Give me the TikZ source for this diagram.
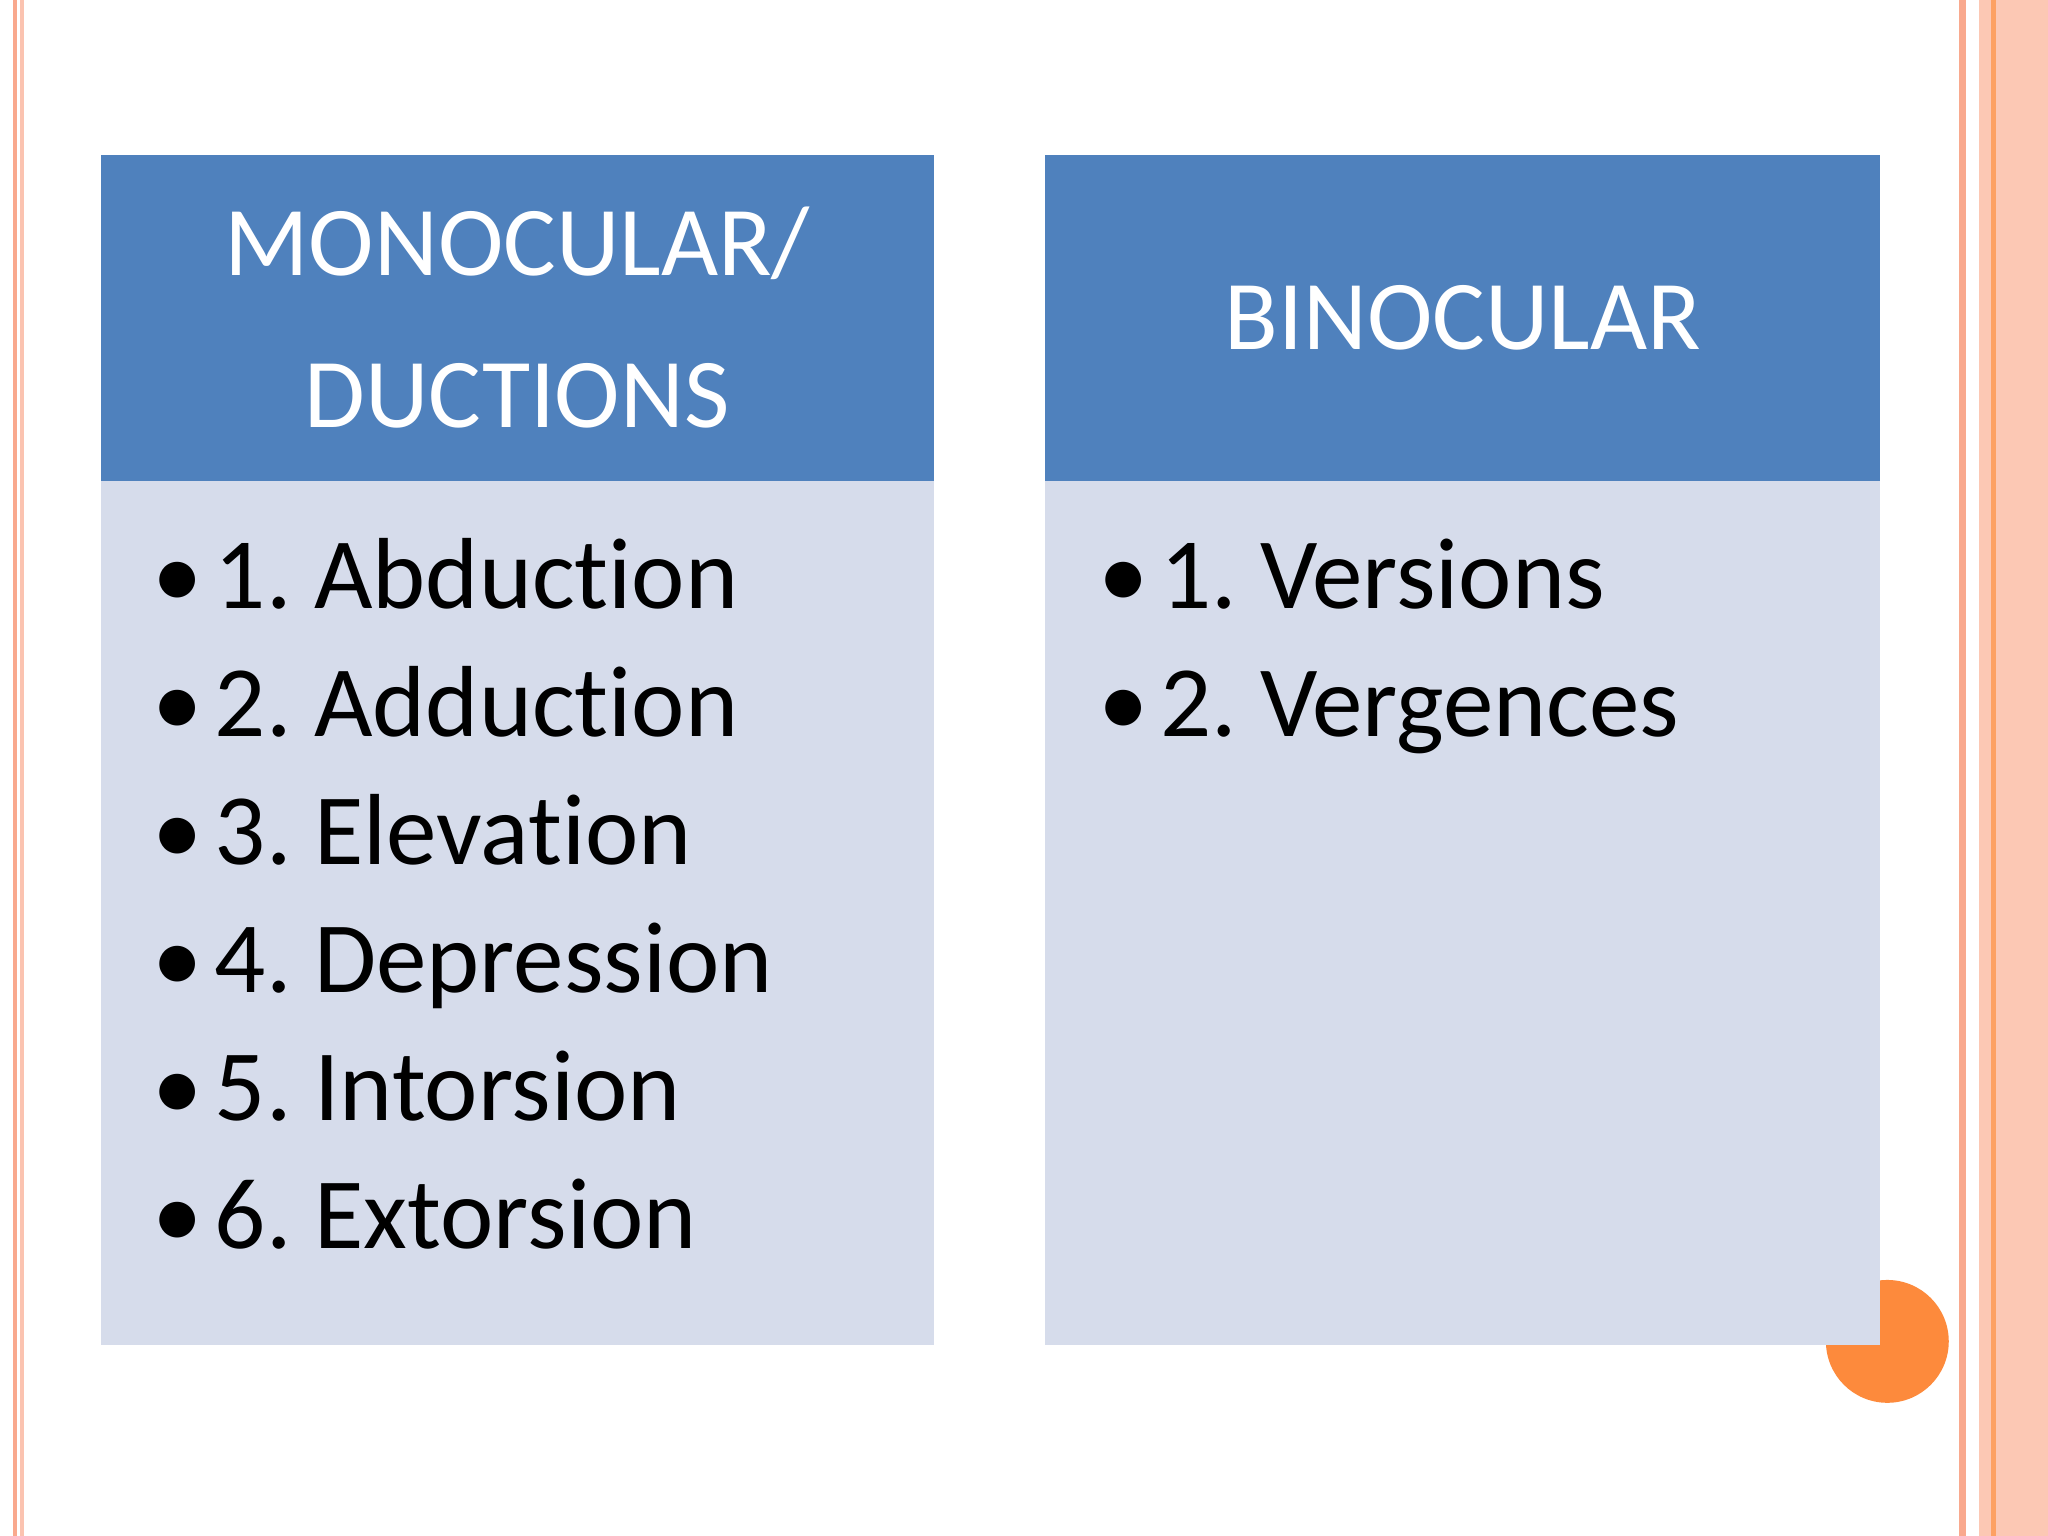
\documentclass[tikz,border=0pt]{standalone}
\usepackage{fontspec}
\setmainfont[Ligatures=NoCommon]{Carlito}
\definecolor{hdr}{HTML}{4F81BD}
\definecolor{bdy}{HTML}{D6DCEB}
\definecolor{orng}{HTML}{FD8A3C}
\definecolor{peach}{HTML}{FCC8B4}
\definecolor{pinkl}{HTML}{F9A98E}
\begin{document}
\begin{tikzpicture}[x=0.01cm,y=-0.01cm,
  item/.style={anchor=base west,inner sep=0,font=\fontsize{22}{27}\selectfont},
  head/.style={text=white,align=center,font=\fontsize{21.5}{33}\selectfont}]
\useasboundingbox (0,0) rectangle (1568,1176);
\fill[white] (0,0) rectangle (1568,1176);
% borders
\fill[pinkl] (10,0) rectangle (13,1176);
\fill[pinkl!70] (15,0) rectangle (18,1176);
\fill[pinkl] (1500,0) rectangle (1505,1176);
\fill[peach] (1515,0) rectangle (1568,1176);
\fill[orng!80] (1524,0) rectangle (1528,1176);
% circle
\node[circle,fill=orng,inner sep=0,minimum size=0.94cm] (dot) at (1445,1027) {};
% left box
\fill[hdr] (77,119) rectangle (715,368);
\fill[bdy] (77,368) rectangle (715,1030);
\node[head] (h1) at (396,243) {MONOCULAR/\\DUCTIONS};
% right box
\fill[hdr] (800,119) rectangle (1439,368);
\fill[bdy] (800,368) rectangle (1439,1030);
\node[head] (h2) at (1120,243) {BINOCULAR};
% items
\foreach \t [count=\i] in {1.~Abduction,2.~Adduction,3.~Elevation,4.~Depression,5.~Intorsion,6.~Extorsion}{
  \node[item] (l\i) at (116,466+98*\i-98) {\textbullet\hspace{0.12em}\t};
}
\foreach \t [count=\i] in {1.~Versions,2.~Vergences}{
  \node[item] (r\i) at (840,466+98*\i-98) {\textbullet\hspace{0.12em}\t};
}
\end{tikzpicture}
\end{document}
